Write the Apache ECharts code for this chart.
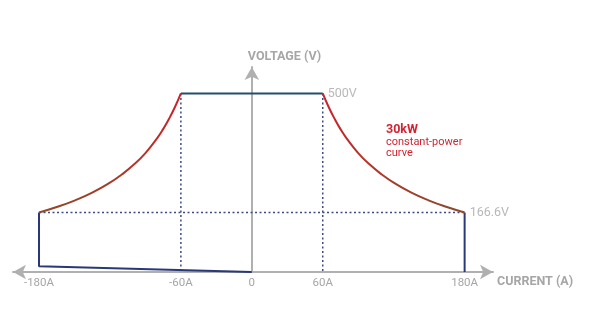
<!DOCTYPE html>
<html><head><meta charset="utf-8">
<script src="https://cdn.jsdelivr.net/npm/echarts@6/dist/echarts.min.js"></script>
<style>html,body{margin:0;padding:0;background:#fff}#c{width:600px;height:330px}</style>
</head><body><div id="c"></div>
<script>
// Tick labels (current, A)
const tickValues = [-180, -60, 0, 60, 180];
const tickLabels = ['-180A', '-60A', '0', '60A', '180A'];
// Operating envelope (current A, voltage V)
const topEdge = [[-60, 500], [60, 500]];
const leftEdge = [[-180, 166.6], [-180, 16], [0, 0]];
const rightEdge = [[180, 166.6], [180, 0]];
// 30kW constant-power curve
const curveRight = [[60,500],[65,462],[70,429],[75,400],[80,375],[90,333],[100,300],[110,273],[120,250],[135,222],[150,200],[165,182],[180,166.6]];
const curveLeft = [[-60,500],[-65,462],[-70,429],[-75,400],[-80,375],[-90,333],[-100,300],[-110,273],[-120,250],[-135,222],[-150,200],[-165,182],[-180,166.6]];
// Dotted guides
const guideLeft = [[-60, 500], [-60, 0]];
const guideRight = [[60, 500], [60, 0]];
const guideLevel = [[-180, 166.6], [180, 166.6]];
// Annotated values
const label500 = [60, 500];
const label1666 = [180, 166.6];

const grey = '#b0b0b0';
const txtGrey = '#a6a6a6';
const font = 'Roboto, "Open Sans", sans-serif';
const chart = echarts.init(document.getElementById('c'));
const curveColor = {type:'linear', x:0, y:0, x2:0, y2:1, colorStops:[{offset:0,color:'#cc1f2b'},{offset:0.55,color:'#b8322a'},{offset:1,color:'#8c4a2a'}]};
const dotted = {color:'#3d4b7c', width:1.5, type:[2,2.5]};
function line(data, style, z) {
  return {type:'line', data, symbol:'none', lineStyle:style, z:z||2, animation:false, silent:true};
}
chart.setOption({
  animation:false,
  grid:{left:13, right:107, top:67, bottom:58},
  xAxis:{
    type:'value', min:-202, max:204,
    axisLine:{onZero:true, symbol:['arrow','arrow'], symbolSize:[11,13], lineStyle:{color:grey, width:2}},
    axisTick:{show:false}, splitLine:{show:false},
    axisLabel:{customValues:tickValues, margin:5, color:txtGrey, fontSize:11.5, fontFamily:font,
      formatter:v=>tickLabels[tickValues.indexOf(v)]},
    name:'CURRENT (A)', nameLocation:'end', nameGap:4,
    nameTextStyle:{color:txtGrey, fontSize:12.5, fontWeight:'bold', fontFamily:font, align:'left', verticalAlign:'top', padding:[3,0,0,0]}
  },
  yAxis:{
    type:'value', min:0, max:574,
    axisLine:{onZero:true, symbol:['none','arrow'], symbolSize:[11,13], lineStyle:{color:grey, width:2}},
    axisTick:{show:false}, splitLine:{show:false}, axisLabel:{show:false},
    name:'VOLTAGE (V)', nameLocation:'end', nameGap:4,
    nameTextStyle:{color:txtGrey, fontSize:12.5, fontWeight:'bold', fontFamily:font, align:'left', verticalAlign:'bottom', padding:[0,0,0,-4]}
  },
  series:[
    line(guideLeft, dotted, 1),
    line(guideRight, dotted, 1),
    line(guideLevel, dotted, 1),
    line(topEdge, {color:'#1f4f6c', width:2}, 3),
    line(leftEdge, {color:'#2a3878', width:2}, 3),
    line(rightEdge, {color:'#2a3878', width:2}, 3),
    Object.assign(line(curveRight, {color:curveColor, width:2}, 4), {smooth:true}),
    Object.assign(line(curveLeft, {color:curveColor, width:2}, 4), {smooth:true}),
    {type:'scatter', data:[label500, label1666], symbolSize:0, z:5, silent:true,
      label:{show:true, position:'right', distance:5, color:txtGrey, fontSize:12.5, fontFamily:font,
        formatter:p=>p.dataIndex===0?'500V':'166.6V'}}
  ],
  graphic:[{type:'text', left:386, top:123, silent:true,
    style:{text:'{b|30kW}\nconstant-power\ncurve', fill:'#d12531', font:'11px '+font, lineHeight:11.5,
      rich:{b:{fontWeight:'bold', fontSize:12.5, fill:'#d12531', fontFamily:font, lineHeight:13}}}}]
});
</script></body></html>
